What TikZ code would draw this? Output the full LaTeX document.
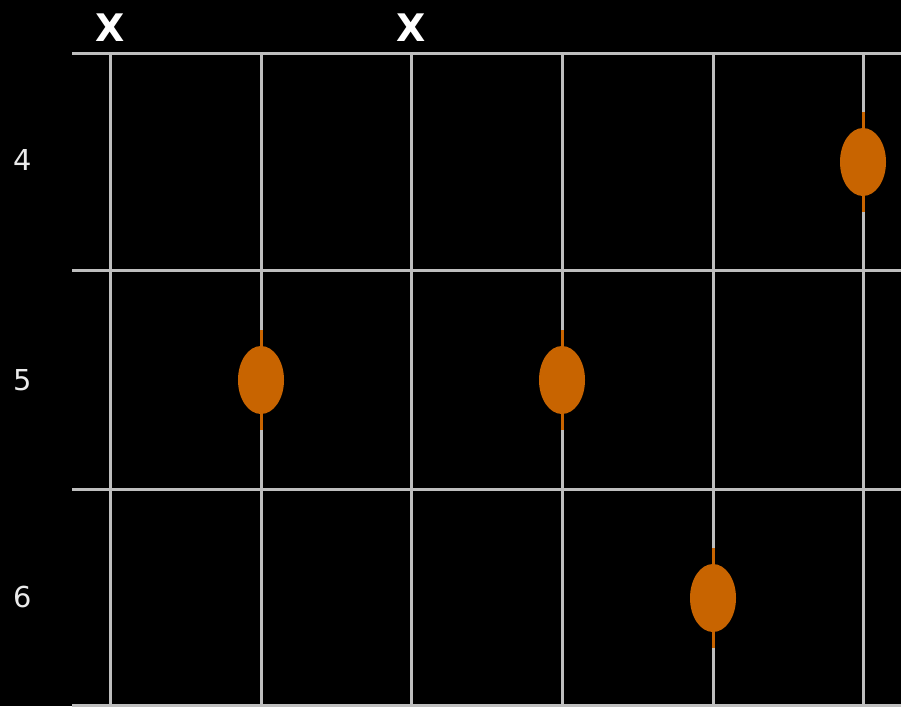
\documentclass[tikz,border=0pt]{standalone}
\usepackage{fontspec}
\setmainfont{DejaVu Sans}
\usetikzlibrary{positioning,shapes.geometric}
\definecolor{fretgray}{RGB}{190,190,190}
\definecolor{labelgray}{RGB}{235,235,235}
\definecolor{dotorange}{RGB}{200,100,0}

\begin{document}
\begin{tikzpicture}[x=0.025cm, y=-0.025cm,
    gridline/.style={draw=fretgray, line width=0.075cm},
    stub/.style={draw=dotorange, line width=0.075cm},
    fingerdot/.style={ellipse, fill=dotorange, inner sep=0pt, minimum width=1.15cm, minimum height=1.7cm},
    fretnum/.style={text=labelgray, font=\fontsize{20.5}{22}\selectfont},
    mutemark/.style={text=white, font=\bfseries\fontsize{27}{28}\selectfont}]

    \fill[black] (0,0) rectangle (901,706);
    \useasboundingbox (0,0) rectangle (901,706);

    % strings
    \foreach \x [count=\i] in {110,261,411,562,713,863} {
      \coordinate (top\i) at (\x,53);
      \coordinate (bot\i) at (\x,706);
      \draw[gridline] (top\i) -- (bot\i);
    }

    % frets
    \foreach \y [count=\j] in {53,270,489,705} {
      \coordinate (fl\j) at (72,\y);
      \coordinate (fr\j) at (901,\y);
      \draw[gridline] (fl\j) -- (fr\j);
    }

    % fret numbers
    \node[fretnum] (n4) at (23,160) {4};
    \node[fretnum] (n5) at (23,380) {5};
    \node[fretnum] (n6) at (23,597) {6};

    % muted strings
    \node[mutemark] (x1) at (110,28) {X};
    \node[mutemark] (x3) at (411,28) {X};

    % fingers
    \coordinate (p1) at (863,162);
    \coordinate (p2) at (261,380);
    \coordinate (p3) at (562,380);
    \coordinate (p4) at (713,598);
    \foreach \k in {1,...,4} {
      \draw[stub] (p\k) ++(0,-50) -- ++(0,100);
      \node[fingerdot] (d\k) at (p\k) {};
    }
\end{tikzpicture}
\end{document}
